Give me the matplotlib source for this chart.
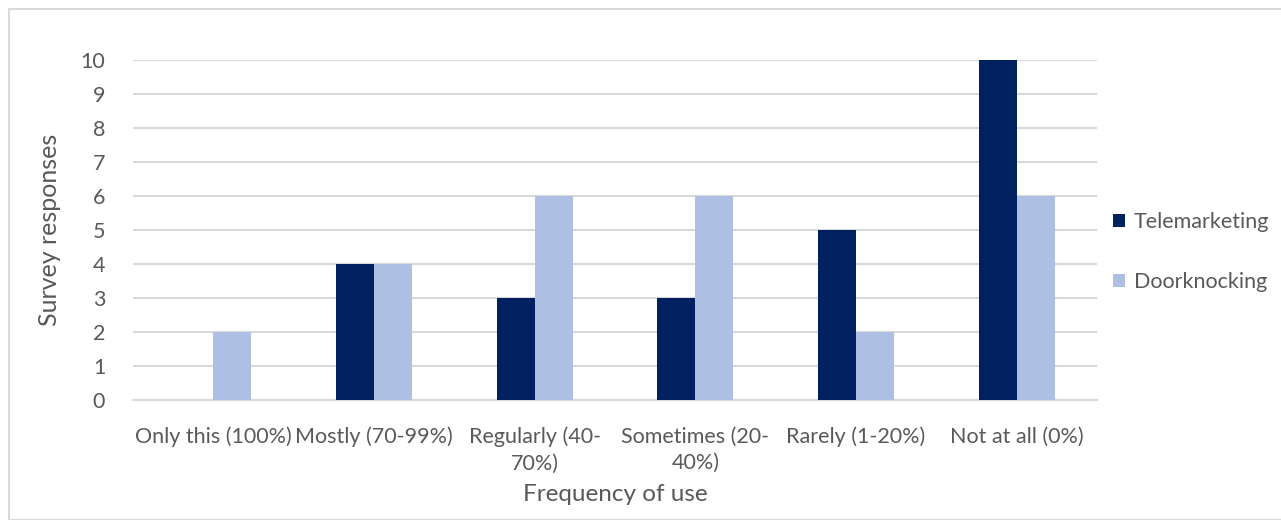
import matplotlib
matplotlib.use("Agg")
import matplotlib.pyplot as plt
import numpy as np
from matplotlib.patches import Rectangle

categories = ["Only this (100%)", "Mostly (70-99%)", "Regularly (40-\n70%)",
              "Sometimes (20-\n40%)", "Rarely (1-20%)", "Not at all (0%)"]
telemarketing = [0, 4, 3, 3, 5, 10]
doorknocking = [2, 4, 6, 6, 2, 6]
series_names = ["Telemarketing", "Doorknocking"]

dark = "#002060"
light = "#ADC0E3"
text_col = "#595959"
grid_col = "#D9D9D9"

plt.rcParams["font.family"] = ["Lato", "DejaVu Sans"]

fig = plt.figure(figsize=(12.81, 5.20), dpi=100)
fig.patches.append(Rectangle((9 / 1281, 0), 1.2, 1 - 9 / 520, transform=fig.transFigure,
                             fill=False, edgecolor=grid_col, linewidth=1.5))
ax = fig.add_axes([133 / 1281, 1 - 400 / 520, (1097 - 133) / 1281, 340 / 520])

x = np.arange(len(categories))
w = 0.236
ax.bar(x - w / 2, telemarketing, w, color=dark, label=series_names[0], zorder=3)
ax.bar(x + w / 2, doorknocking, w, color=light, label=series_names[1], zorder=3)

ax.set_xlim(-0.5, len(categories) - 0.5)
ax.set_ylim(0, 10)
ax.set_yticks(range(0, 11))
ax.yaxis.grid(True, color=grid_col, linewidth=1.5, zorder=0)
ax.set_axisbelow(True)
for s in ["top", "right", "left"]:
    ax.spines[s].set_visible(False)
ax.spines["bottom"].set_color(grid_col)
ax.spines["bottom"].set_linewidth(1.5)
ax.tick_params(axis="both", length=0, labelsize=15.5, colors=text_col)
ax.tick_params(axis="y", pad=20)
ax.tick_params(axis="x", pad=19)
ax.set_xticks(x)
ax.set_xticklabels(categories, linespacing=1.4)

ax.set_xlabel("Frequency of use", fontsize=17.5, color=text_col, labelpad=8)
ax.set_ylabel("Survey responses", fontsize=18, color=text_col, labelpad=14)

leg = ax.legend(loc="center left", bbox_to_anchor=(0.996, 0.435), frameon=False,
                fontsize=15.5, labelcolor=text_col, handlelength=0.6, handleheight=0.6,
                handletextpad=0.4, labelspacing=1.85)

fig.savefig("out.png", dpi=100)
